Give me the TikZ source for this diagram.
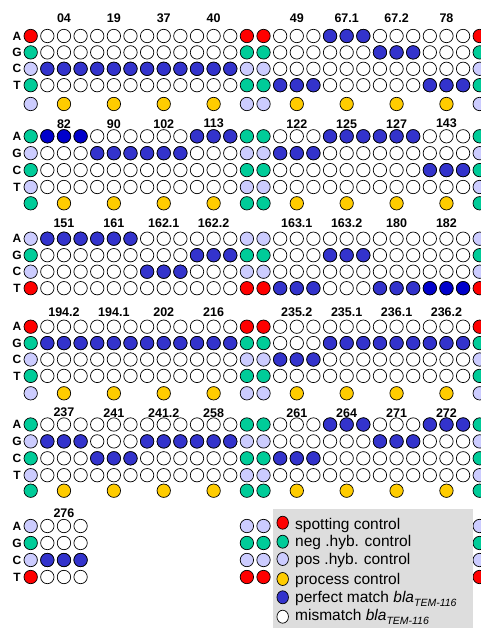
\documentclass[tikz,border=0pt]{standalone}
\usepackage{fontspec}
\setmainfont{Liberation Sans}
\usetikzlibrary{shapes.geometric}
\definecolor{spotred}{HTML}{FF0000}
\definecolor{neggreen}{HTML}{00CC99}
\definecolor{poslav}{HTML}{CCCCFF}
\definecolor{procyel}{HTML}{FFCC00}
\definecolor{pmblue}{HTML}{3333CC}
\definecolor{pmdark}{HTML}{0000CC}
\definecolor{legbg}{HTML}{DDDDDD}
\tikzset{
  spotdot/.style={circle,draw=black,line width=0.7pt,minimum size=13.4pt,inner sep=0pt},
  legdot/.style={ellipse,draw=black,line width=0.7pt,minimum width=11.5pt,minimum height=13pt,inner sep=0pt},
  rowlab/.style={inner sep=0pt,font=\bfseries\fontsize{12}{14}\selectfont},
  collab/.style={inner sep=0pt,font=\bfseries\fontsize{12.5}{14}\selectfont},
  legtext/.style={inner sep=0pt,anchor=base west,font=\fontsize{15.5}{18}\selectfont}
}
% #1 name, #2 yA, #3 dy, #4 yLabel, #5 ctrl colours, #6 probe columns (macro), #7 groups
\newcommand\mblock[7]{%
  \foreach \kc [count=\rr from 0] in {#5} {
    \pgfmathsetmacro\yy{#2+#3*\rr}
    \foreach \col in {0,13,14,27}
      \node[spotdot,fill=\kc] (#1-\rr-\col) at ({30.7+16.63*\col},\yy) {};
    \foreach \col in #6
      \node[spotdot,fill=white] (#1-\rr-\col) at ({30.7+16.63*\col},\yy) {};
  }
  \foreach \rl [count=\rr from 0] in {A,G,C,T}
    \node[rowlab] (#1-lab\rl) at (17,{#2+#3*\rr}) {\rl};
  \foreach \gg/\lab/\rw/\bc in {#7} {
    \node[collab] (#1-t\gg) at ({30.7+16.63*\gg},#4) {\lab};
    \foreach \dd in {-1,0,1} {
      \pgfmathtruncatemacro\kk{\gg+\dd}
      \node[spotdot,fill=\bc] (#1-\rw-\kk-pm) at ({30.7+16.63*\kk},{#2+#3*\rw}) {};
    }
  }
}
% #1 name, #2 y, #3 ctrl colour
\newcommand\procrow[3]{%
  \foreach \col in {0,13,14,27}
    \node[spotdot,fill=#3] (#1-p-\col) at ({30.7+16.63*\col},#2) {};
  \foreach \col in {2,5,8,11,16,19,22,25}
    \node[spotdot,fill=procyel] (#1-p-\col) at ({30.7+16.63*\col},#2) {};
}
\def\probes{1,2,3,4,5,6,7,8,9,10,11,12,15,16,17,18,19,20,21,22,23,24,25,26}
\def\probesix{1,2,3}
\begin{document}
\begin{tikzpicture}[x=1pt,y=-1pt]
\clip (0,0) rectangle (481,628);
\fill[white] (0,0) rectangle (481,628);
% block 1
\mblock{b1}{36}{16.4}{18.3}{spotred,neggreen,poslav,neggreen}{\probes}%
 {2/04/2/pmblue,5/19/2/pmblue,8/37/2/pmblue,11/40/2/pmblue,16/49/3/pmblue,19/67.1/0/pmblue,22/67.2/1/pmblue,25/78/3/pmblue}
\procrow{b1}{104}{poslav}
% block 2
\mblock{b2}{136.3}{16.9}{123.7}{neggreen,poslav,neggreen,poslav}{\probes}%
 {2/82/0/pmdark,5/90/1/pmblue,8/102/1/pmblue,11/113/0/pmblue,16/122/1/pmblue,19/125/0/pmblue,22/127/0/pmblue,25/143/2/pmblue}
\procrow{b2}{203.3}{neggreen}
% block 3
\mblock{b3}{238.7}{16.5}{223}{poslav,neggreen,poslav,spotred}{\probes}%
 {2/151/0/pmblue,5/161/0/pmblue,8/162.1/2/pmblue,11/162.2/1/pmblue,16/163.1/3/pmblue,19/163.2/1/pmblue,22/180/3/pmblue,25/182/3/pmdark}
% block 4
\mblock{b4}{326.7}{16.4}{312.3}{spotred,neggreen,poslav,neggreen}{\probes}%
 {2/194.2/1/pmblue,5/194.1/1/pmblue,8/202/1/pmblue,11/216/1/pmblue,16/235.2/2/pmblue,19/235.1/1/pmblue,22/236.1/1/pmblue,25/236.2/1/pmblue}
\procrow{b4}{393.3}{poslav}
% block 5
\mblock{b5}{424.5}{16.9}{412.7}{neggreen,poslav,neggreen,poslav}{\probes}%
 {2/237/1/pmblue,5/241/2/pmblue,8/241.2/1/pmblue,11/258/1/pmblue,16/261/2/pmblue,19/264/0/pmblue,22/271/1/pmblue,25/272/0/pmblue}
\procrow{b5}{490.7}{neggreen}
% block 6
\mblock{b6}{526}{17}{512.7}{poslav,neggreen,poslav,spotred}{\probesix}%
 {2/276/2/pmblue}
% legend
\path[fill=legbg] (272.7,508.5) rectangle (473,628);
\node[legdot,fill=spotred]  (l1) at (282.7,522.7) {};
\node[legdot,fill=neggreen] (l2) at (282.7,541.7) {};
\node[legdot,fill=poslav]   (l3) at (282.7,559) {};
\node[legdot,fill=procyel]  (l4) at (282.7,579) {};
\node[legdot,fill=pmblue]   (l5) at (282.7,597.3) {};
\node[legdot,fill=white]    (l6) at (282.7,616.7) {};
\node[legtext] (t1) at (295,529.3) {spotting control};
\node[legtext] (t2) at (295,546.7) {neg .hyb. control};
\node[legtext] (t3) at (295,564) {pos .hyb. control};
\node[legtext] (t4) at (295,584) {process control};
\node[legtext] (t5) at (295,602.3) {perfect match \textit{bla}\raisebox{-3.7pt}{\fontsize{10.5}{12}\selectfont\itshape TEM-116}};
\node[legtext] (t6) at (295,620.7) {mismatch \textit{bla}\raisebox{-3.7pt}{\fontsize{10.5}{12}\selectfont\itshape TEM-116}};
\end{tikzpicture}
\end{document}
